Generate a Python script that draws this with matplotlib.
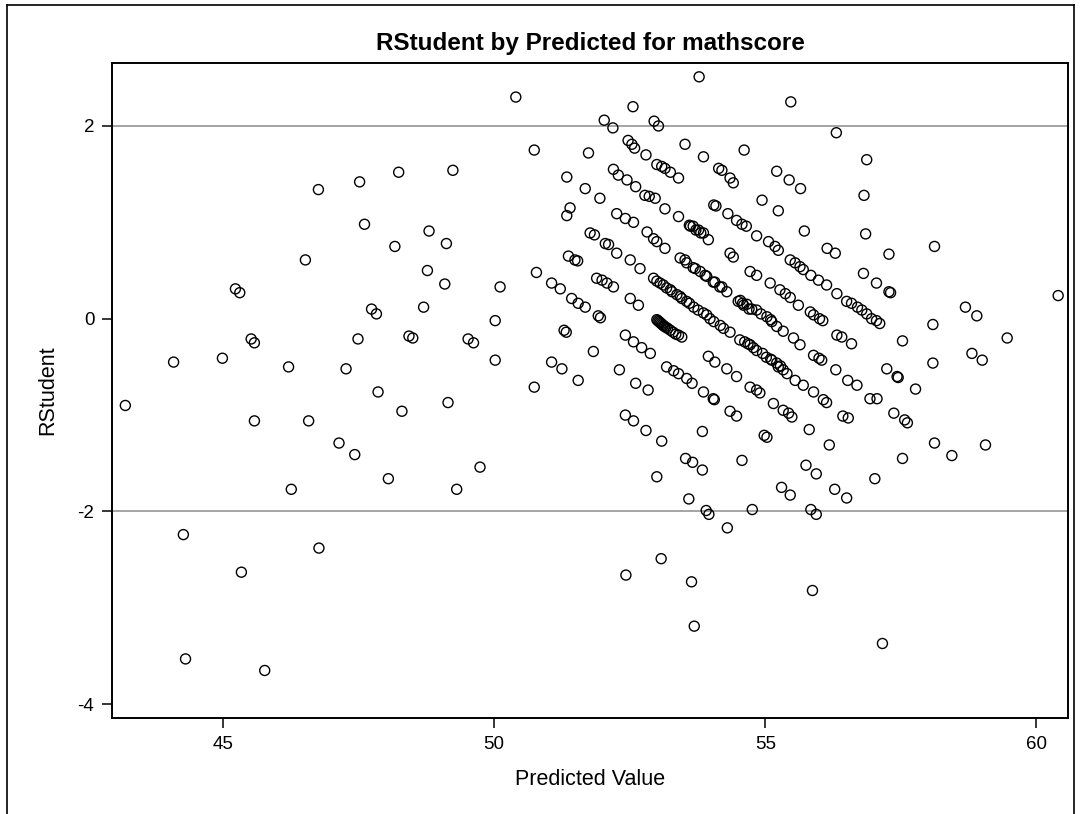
import matplotlib
matplotlib.use("Agg")
import matplotlib.pyplot as plt
from matplotlib.lines import Line2D

plt.rcParams["font.family"] = ["Liberation Sans", "DejaVu Sans"]
plt.rcParams["axes.unicode_minus"] = False

# predicted value / rstudent pairs
predicted = [
    43.20, 44.09, 44.27, 44.31, 44.99, 45.23, 45.31, 45.34, 45.52, 45.58,
    45.58, 45.77, 46.21, 46.26, 46.52, 46.58, 46.76, 46.77, 47.14, 47.27,
    47.43, 47.49, 47.52, 47.61, 47.74, 47.83, 47.86, 48.05, 48.17, 48.24,
    48.30, 48.43, 48.50, 48.70, 48.77, 48.80, 49.09, 49.12, 49.15, 49.24,
    49.31, 49.52, 49.62, 49.74, 50.02, 50.02, 50.11,
    # 50 - 53
    50.40, 50.74, 50.74, 50.78, 51.06, 51.22, 51.06, 51.25, 51.29, 51.33,
    51.34, 51.40, 51.34, 51.37, 51.49, 51.54, 51.43, 51.55, 51.68, 51.55,
    51.68, 51.74, 51.77, 51.85, 51.83, 51.89, 51.99, 52.08, 52.20, 51.92,
    51.96, 51.95, 52.03, 52.19, 52.05, 52.11, 52.20, 52.29, 52.45, 52.61,
    52.26, 52.42, 52.57, 52.26, 52.51, 52.69, 52.51, 52.66, 52.31, 52.42,
    52.57, 52.72, 52.88, 52.42, 52.57, 52.80, 53.09, 52.43, 52.47, 52.54,
    52.59, 52.80, 52.56, 52.61, 52.84, 52.78, 52.86, 52.97, 52.82, 52.94,
    53.00, 53.15, 52.95, 53.03, 53.00, 53.09, 53.15, 53.25, 53.40, 53.15,
    53.40, 53.00, 53.08,
    # diagonal bands
    52.94, 53.06, 53.18, 53.28, 53.37, 53.46, 53.55, 53.68, 53.86, 53.98,
    54.17, 54.35, 54.53, 54.72, 54.84, 55.02, 55.12, 55.21, 55.24, 55.33,
    55.40, 55.55, 55.70, 55.89, 56.07, 56.13, 56.43, 56.53,
    53.43, 53.55, 53.67, 53.80, 53.92, 54.04, 54.16, 54.29, 54.54, 54.66,
    54.84, 55.03, 55.12, 55.21, 55.33, 55.52, 55.64, 55.89, 55.99, 56.04,
    56.30, 56.52, 56.69, 56.93, 57.06,
    53.00, 53.04, 53.08, 53.12, 53.17, 53.25, 53.30, 53.46, 53.95, 54.07,
    54.29, 54.47, 54.72, 54.84, 54.90, 55.15, 55.33, 55.43, 55.49, 55.81,
    56.18,
    53.60, 53.67, 53.77, 53.86, 53.95, 54.35, 54.41, 54.72, 54.84, 55.09,
    55.27, 55.37, 55.46, 55.61, 55.83, 55.89, 56.00, 56.06, 56.32, 56.41,
    56.59,
    54.31, 54.47, 54.57, 54.65, 54.84, 55.06, 55.18, 55.24, 55.46, 55.55,
    55.64, 55.70, 55.84, 55.98, 56.13, 56.32, 56.50, 56.59, 56.70, 56.78,
    56.87, 56.96, 57.05, 57.11,
    53.18, 53.31, 53.40, 53.55, 53.65, 53.86, 54.04, 54.06, 54.35, 54.47,
    54.98, 55.03, 53.84,
    # overlapping points in the densest stretches
    53.52, 53.71, 53.89, 54.07, 54.20,
    53.62, 53.72, 53.81,
    53.02, 53.06, 53.10, 53.14, 53.20, 53.35, 53.40,
    53.00, 53.12, 53.25, 53.43, 53.60, 53.76, 53.92, 54.05, 54.23,
    54.50, 54.60, 54.70, 54.58, 54.75, 54.92, 55.10,
    54.62, 54.68, 54.78, 54.95, 55.10, 55.28,
    # upper right / sparse
    53.52, 53.78, 53.86, 54.14, 54.20, 54.35, 54.41, 54.61, 54.05, 54.09,
    54.94, 55.21, 55.44, 55.65, 55.24, 55.47, 55.72, 56.31, 56.87, 56.82,
    56.85, 56.14, 56.29, 57.28, 58.12, 56.81, 57.05, 57.28, 57.31, 58.09,
    58.69, 58.90, 59.46, 58.81, 59.00, 60.40, 57.53, 58.09, 57.24, 57.43,
    57.45, 57.77, 57.37, 57.57, 57.62, 58.12, 58.44, 59.06, 57.53, 57.02,
    56.28, 56.50, 55.30, 55.46, 55.75, 55.94, 55.84, 55.94, 55.87, 57.16,
    # lower middle
    53.53, 53.66, 53.84, 54.57, 53.59, 53.91, 53.96, 54.76, 54.30, 53.64,
    53.69,
]
rstudent = [
    -0.90, -0.45, -2.24, -3.53, -0.41, 0.31, 0.27, -2.63, -0.21, -0.25,
    -1.06, -3.65, -0.50, -1.77, 0.61, -1.06, 1.34, -2.38, -1.29, -0.52,
    -1.41, -0.21, 1.42, 0.98, 0.10, 0.05, -0.76, -1.66, 0.75, 1.52,
    -0.96, -0.18, -0.20, 0.12, 0.50, 0.91, 0.36, 0.78, -0.87, 1.54,
    -1.77, -0.21, -0.25, -1.54, -0.02, -0.43, 0.33,
    2.30, 1.75, -0.71, 0.48, 0.37, 0.31, -0.45, -0.52, -0.12, -0.14,
    1.47, 1.15, 1.07, 0.65, 0.61, 0.60, 0.21, 0.16, 0.12, -0.64,
    1.35, 1.72, 0.89, 0.87, -0.34, 0.42, 0.40, 0.37, 0.33, 0.03,
    0.01, 1.25, 2.06, 1.98, 0.78, 0.77, 1.55, 1.49, 1.44, 1.37,
    1.09, 1.04, 1.00, 0.68, 0.61, 0.52, 0.21, 0.14, -0.53, -0.17,
    -0.24, -0.30, -0.36, -1.00, -1.06, -1.16, -1.27, -2.66, 1.85, 1.81,
    1.77, 1.70, 2.20, -0.67, -0.74, 1.28, 1.27, 1.25, 0.90, 0.83,
    0.80, 0.73, 2.05, 2.00, 1.60, 1.58, 1.56, 1.52, 1.46, 1.14,
    1.06, -1.64, -2.49,
    0.42, 0.37, 0.32, 0.28, 0.25, 0.21, 0.18, 0.12, 0.06, 0.00,
    -0.07, -0.14, -0.22, -0.27, -0.33, -0.40, -0.43, -0.46, -0.50, -0.53,
    -0.57, -0.64, -0.69, -0.76, -0.84, -0.87, -1.01, -1.03,
    0.63, 0.58, 0.53, 0.49, 0.44, 0.38, 0.33, 0.28, 0.19, 0.15,
    0.09, 0.02, -0.03, -0.08, -0.13, -0.20, -0.27, -0.38, -0.41, -0.43,
    -0.53, -0.64, -0.69, -0.83, -0.83,
    -0.01, -0.03, -0.05, -0.07, -0.09, -0.12, -0.14, -0.19, -0.39, -0.45,
    -0.52, -0.60, -0.71, -0.74, -0.77, -0.88, -0.95, -0.98, -1.02, -1.15,
    -1.31,
    0.97, 0.96, 0.92, 0.89, 0.82, 0.68, 0.64, 0.49, 0.45, 0.37,
    0.30, 0.26, 0.22, 0.14, 0.07, 0.04, 0.00, -0.02, -0.17, -0.19,
    -0.26,
    1.09, 1.02, 0.98, 0.96, 0.86, 0.80, 0.75, 0.71, 0.61, 0.58,
    0.54, 0.51, 0.45, 0.40, 0.35, 0.26, 0.18, 0.16, 0.12, 0.09,
    0.05, 0.00, -0.02, -0.05,
    -0.50, -0.54, -0.57, -0.62, -0.67, -0.76, -0.83, -0.84, -0.96, -1.01,
    -1.21, -1.23, -1.17,
    0.61, 0.52, 0.45, 0.38, 0.33,
    0.96, 0.92, 0.89,
    -0.02, -0.04, -0.06, -0.08, -0.10, -0.16, -0.17,
    0.39, 0.35, 0.30, 0.23, 0.16, 0.09, 0.04, -0.03, -0.10,
    0.18, 0.14, 0.10, 0.16, 0.10, 0.05, -0.01,
    -0.24, -0.26, -0.30, -0.36, -0.42, -0.49,
    1.81, 2.51, 1.68, 1.56, 1.54, 1.46, 1.41, 1.75, 1.18, 1.17,
    1.23, 1.53, 1.44, 1.35, 1.12, 2.25, 0.91, 1.93, 1.65, 1.28,
    0.88, 0.73, 0.68, 0.67, 0.75, 0.47, 0.37, 0.28, 0.27, -0.06,
    0.12, 0.03, -0.20, -0.36, -0.43, 0.24, -0.23, -0.46, -0.52, -0.60,
    -0.61, -0.73, -0.98, -1.05, -1.08, -1.29, -1.42, -1.31, -1.45, -1.66,
    -1.77, -1.86, -1.75, -1.83, -1.52, -1.61, -1.98, -2.03, -2.82, -3.37,
    -1.45, -1.49, -1.57, -1.47, -1.87, -1.99, -2.03, -1.98, -2.17, -2.73,
    -3.19,
]

ref_levels = [-2, 2]
x_ticks = [45, 50, 55, 60]
y_ticks = [-4, -2, 0, 2]

fig = plt.figure(figsize=(10.81, 8.14), dpi=100)
ax = fig.add_axes([0.1039, 0.1183, 0.884, 0.8039])

for lvl in ref_levels:
    ax.axhline(lvl, color="#8c8c8c", linewidth=1.1, zorder=1)

ax.scatter(predicted, rstudent, s=52, facecolors="none", edgecolors="black",
           linewidths=1.0, zorder=2)

ax.set_xlim(42.96, 60.58)
ax.set_ylim(-4.14, 2.65)
ax.set_xticks(x_ticks)
ax.set_yticks(y_ticks)
ax.tick_params(direction="out", length=7, width=1.1, labelsize=13.5, pad=6)
for sp in ax.spines.values():
    sp.set_linewidth(1.4)

ax.set_xlabel("Predicted Value", fontsize=15.5, labelpad=12)
ax.set_ylabel("RStudent", fontsize=15.5, labelpad=14)
fig.text(0.546, 0.947, "RStudent by Predicted for mathscore", ha="center", va="center",
         fontsize=17.5, fontweight="bold")

# outer frame of the original output window
for xs, ys in [([0.0065, 0.0065], [0.0, 0.994]), ([0.0065, 0.9935], [0.994, 0.994]),
               ([0.9935, 0.9935], [0.0, 0.994])]:
    fig.add_artist(Line2D(xs, ys, transform=fig.transFigure, color="black", linewidth=1.2))

fig.savefig("out.png", dpi=100)
